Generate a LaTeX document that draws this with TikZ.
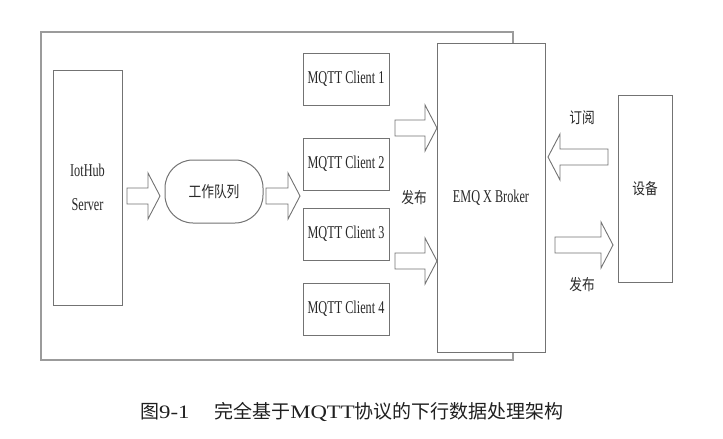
\documentclass[tikz,border=0pt]{standalone}
\usepackage{fontspec}
\setmainfont{Liberation Serif}
\newfontfamily\cond[FakeStretch=0.68]{Liberation Serif}
\newfontfamily\cjk[FakeStretch=0.82]{Noto Sans CJK SC}
\newfontfamily\cjkcap{Noto Sans CJK SC}
\newfontfamily\capl[FakeStretch=1.2]{Liberation Serif}
\definecolor{ln}{RGB}{115,115,115}
\definecolor{fr}{RGB}{155,155,155}
\definecolor{tx}{RGB}{40,40,40}
\tikzset{
  box/.style={draw=ln, line width=1pt, fill=white, text=tx, font=\cond\fontsize{18}{21}\selectfont, align=center, inner sep=0pt},
  cjkfont/.style={font=\cjk\fontsize{15.5}{18}\selectfont},
  lbl/.style={text=tx, cjkfont, inner sep=0pt},
  blk/.style={draw=ln, line width=0.9pt, fill=white, line join=miter},
}
\newcommand\arrR[3]{\draw[blk] (#1,#3-8) -- (#2-12,#3-8) -- (#2-12,#3-23) -- (#2,#3) -- (#2-12,#3+23) -- (#2-12,#3+8) -- (#1,#3+8) -- cycle;}
\newcommand\arrL[3]{\draw[blk] (#2,#3-8) -- (#1+12,#3-8) -- (#1+12,#3-23) -- (#1,#3) -- (#1+12,#3+23) -- (#1+12,#3+8) -- (#2,#3+8) -- cycle;}
\begin{document}
\begin{tikzpicture}[x=1pt,y=-1pt]
\useasboundingbox (0,0) rectangle (723,439);
% outer frame
\draw[fr, line width=1.6pt] (41,32) rectangle (513,360);
% broker
\node[box, minimum width=108pt, minimum height=309pt] (broker) at (491,197.5) {EMQ X Broker};
% iothub
\node[box, minimum width=69pt, minimum height=235pt] (iot) at (87.5,187.5) {IotHub\\[13pt]Server};
% queue
\node[box, rounded corners=28pt, minimum width=98pt, minimum height=63pt, cjkfont] (queue) at (214,191.5) {工作队列};
% clients
\node[box, minimum width=86pt, minimum height=52pt] (c1) at (346,79) {MQTT Client 1};
\node[box, minimum width=86pt, minimum height=52pt] (c2) at (346,164) {MQTT Client 2};
\node[box, minimum width=86pt, minimum height=52pt] (c3) at (346,234) {MQTT Client 3};
\node[box, minimum width=86pt, minimum height=52pt] (c4) at (346,309) {MQTT Client 4};
% device
\node[box, minimum width=54pt, minimum height=187pt, cjkfont] (dev) at (645,188.5) {设备};
% block arrows
\arrR{127}{160}{196}
\arrR{266}{300}{196}
\arrR{395}{437}{128}
\arrR{395}{437}{261}
\arrL{548}{608}{157}
\arrR{555}{613}{245}
% labels
\node[lbl] (pub1) at (414,198) {发布};
\node[lbl] (sub) at (582,118) {订阅};
\node[lbl] (pub2) at (582,285) {发布};
% caption
\node[text=black!88, inner sep=0pt, font=\cjkcap\fontsize{19}{22}\selectfont] (cap) at (352,412)
  {图{\capl 9-1}\hspace{1.3em}完全基于{\capl MQTT}协议的下行数据处理架构};
\end{tikzpicture}
\end{document}
